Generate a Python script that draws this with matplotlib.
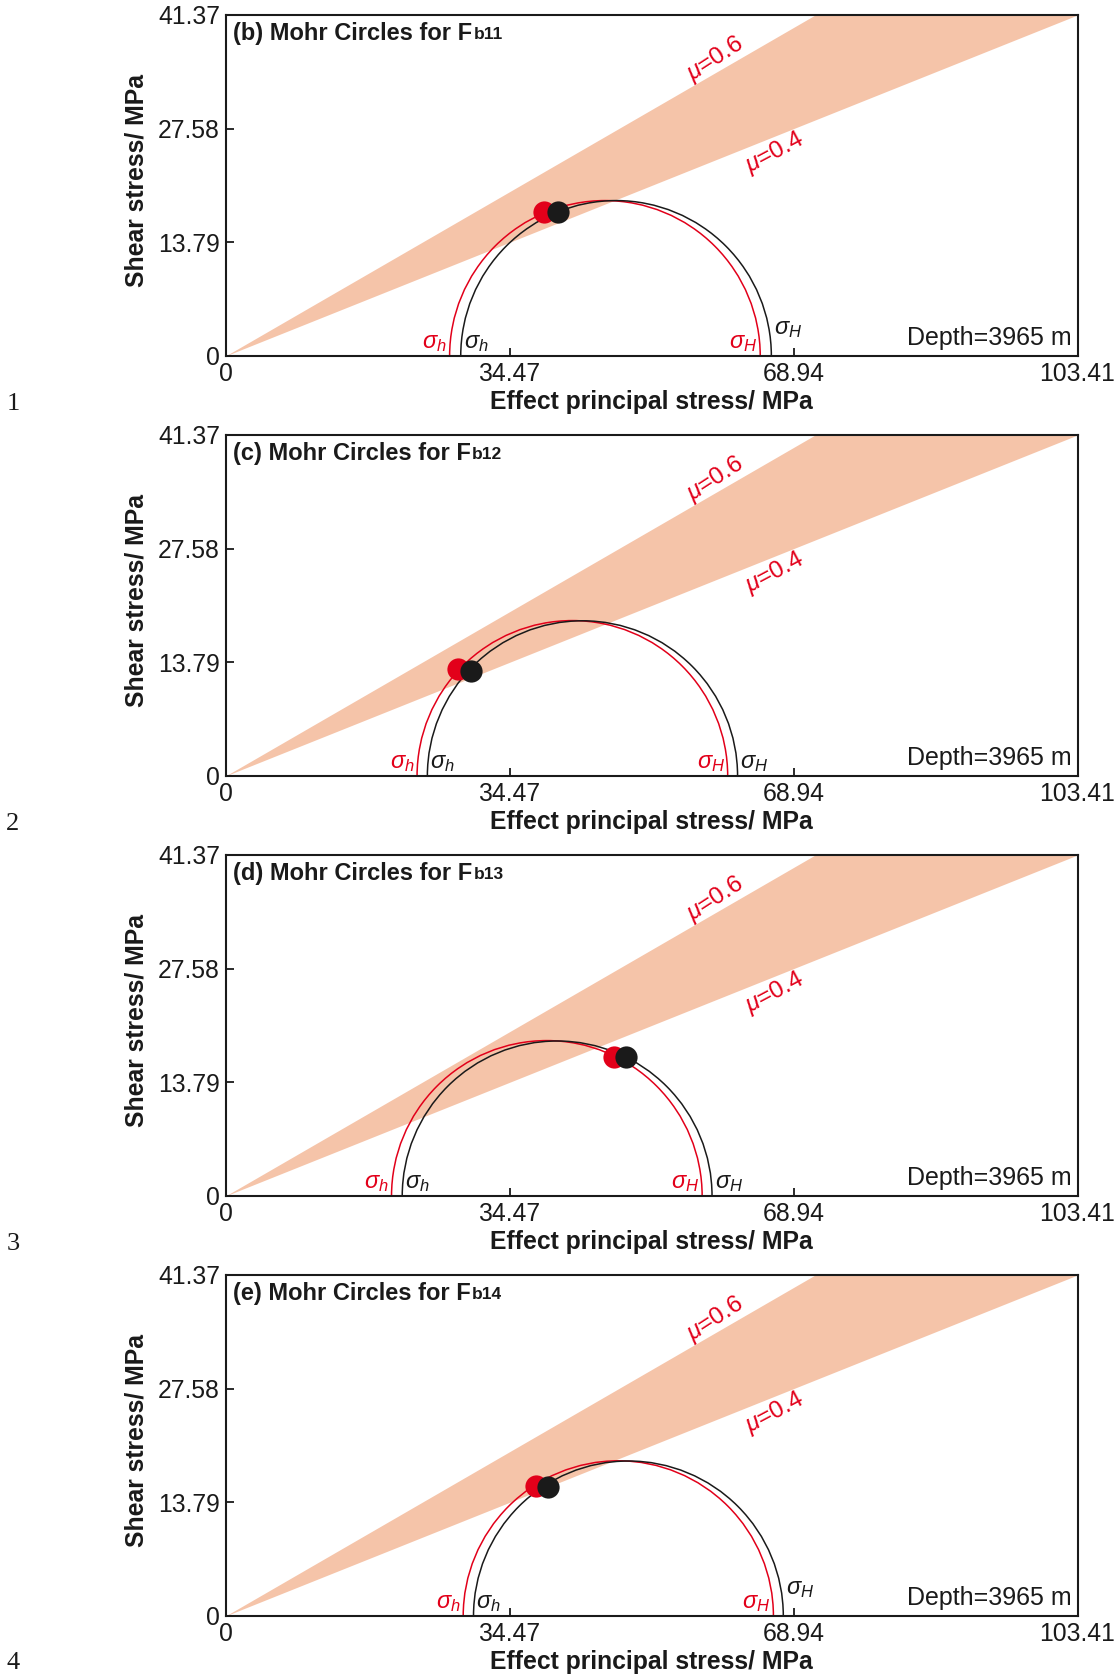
import numpy as np
import matplotlib
matplotlib.use("Agg")
import matplotlib.pyplot as plt
from matplotlib.patches import Arc

plt.rcParams['font.family'] = ['Liberation Sans', 'DejaVu Sans']
plt.rcParams['mathtext.fontset'] = 'custom'
plt.rcParams['mathtext.rm'] = 'Liberation Sans'
plt.rcParams['mathtext.it'] = 'Liberation Sans:italic'
plt.rcParams['mathtext.bf'] = 'Liberation Sans:bold'

# axis ticks (MPa)
x_ticks = [0, 34.47, 68.94, 103.41]
y_ticks = [0, 13.79, 27.58, 41.37]
x_tick_labels = ['0', '34.47', '68.94', '103.41']
y_tick_labels = ['0', '13.79', '27.58', '41.37']

# friction band slopes as drawn (lower / upper edge)
band_low = 0.40
band_high = 0.578

panel_letters = ['b', 'c', 'd', 'e']
fault_ids = ['b11', 'b12', 'b13', 'b14']
row_numbers = ['1', '2', '3', '4']

# Mohr circle ends (sigma_h, sigma_H)
red_sh = [27.2, 23.25, 20.15, 28.85]
red_sH = [64.9, 60.95, 57.85, 66.5]
blk_sh = [28.55, 24.5, 21.45, 30.1]
blk_sH = [66.25, 62.15, 59.05, 67.7]

# fault points on the circles
red_pt_x = [38.7, 28.2, 47.1, 37.7]
red_pt_y = [17.5, 12.95, 16.8, 15.8]
blk_pt_x = [40.3, 29.8, 48.6, 39.1]
blk_pt_y = [17.5, 12.75, 16.8, 15.65]

depth_m = 3965

RED = '#e2001a'
BAND = '#f5c4a9'
INK = '#1a1a1a'

fig = plt.figure(figsize=(11.18, 16.76), dpi=100)

bottoms = [0.7876, 0.5370, 0.2864, 0.0358]
num_y = [0.759, 0.5084, 0.2578, 0.0080]

for i in range(4):
    ax = fig.add_axes([0.2017, bottoms[i], 0.7621, 0.2035])
    ax.set_xlim(0, 103.41)
    ax.set_ylim(0, 41.37)

    xs = np.array([0, 103.41 * 1.2])
    ax.fill_between(xs, band_low * xs, band_high * xs, color=BAND, lw=0, zorder=1)

    for sh, sH, col in [(red_sh[i], red_sH[i], RED), (blk_sh[i], blk_sH[i], INK)]:
        c = (sh + sH) / 2
        d = sH - sh
        ax.add_patch(Arc((c, 0), d, d, theta1=0, theta2=180, color=col, lw=1.1, zorder=3))

    ax.plot(red_pt_x[i], red_pt_y[i], 'o', color=RED, ms=16, mec='none', zorder=4)
    ax.plot(blk_pt_x[i], blk_pt_y[i], 'o', color=INK, ms=16, mec='none', zorder=5)

    # sigma labels
    ax.text(red_sh[i] - 0.35, 0.25, r'$\sigma_h$', color=RED, fontsize=17, ha='right', va='bottom', zorder=6)
    ax.text(blk_sh[i] + 0.35, 0.25, r'$\sigma_h$', color=INK, fontsize=17, ha='left', va='bottom', zorder=6)
    ax.text(red_sH[i] - 0.35, 0.25, r'$\sigma_H$', color=RED, fontsize=17, ha='right', va='bottom', zorder=6)
    raise_y = 1.9 if i in (0, 3) else 0.25
    ax.text(blk_sH[i] + 0.35, raise_y, r'$\sigma_H$', color=INK, fontsize=17, ha='left', va='bottom', zorder=6)

    ax.text(59.4, 36.0, r'$\mu$=0.6', color=RED, fontsize=17.5, rotation=33,
            ha='center', va='center', rotation_mode='anchor', zorder=6)
    ax.text(66.7, 24.6, r'$\mu$=0.4', color=RED, fontsize=17.5, rotation=28,
            ha='center', va='center', rotation_mode='anchor', zorder=6)

    t = ax.text(0.009, 0.945, '(%s) Mohr Circles for F' % panel_letters[i], transform=ax.transAxes,
                fontsize=17, fontweight='bold', ha='left', va='center', color=INK, zorder=6)
    ax.annotate(fault_ids[i], xy=(1.005, 0.14), xycoords=t, fontsize=12.5, fontweight='bold',
                ha='left', va='bottom', color=INK, zorder=6)

    ax.text(0.9935, 0.053, 'Depth=%d m' % depth_m, transform=ax.transAxes, fontsize=18,
            ha='right', va='center', color=INK, zorder=6)

    ax.set_xticks(x_ticks)
    ax.set_xticklabels(x_tick_labels)
    ax.set_yticks(y_ticks)
    ax.set_yticklabels(y_tick_labels)
    ax.tick_params(direction='in', length=6, width=1.3, labelsize=17.8, colors=INK, pad=4)
    for s in ax.spines.values():
        s.set_linewidth(1.5)
        s.set_color(INK)
        s.set_zorder(7)

    ax.set_xlabel('Effect principal stress/ MPa', fontsize=17.8, fontweight='bold', color=INK)
    ax.xaxis.set_label_coords(0.5, -0.1)
    ax.set_ylabel('Shear stress/ MPa', fontsize=17.8, fontweight='bold', color=INK)
    ax.yaxis.set_label_coords(-0.0905, 0.515)

    fig.text(0.0115, num_y[i], row_numbers[i], family='Liberation Serif', fontsize=19,
             ha='center', va='center', color=INK)

fig.savefig('out.png', dpi=100)
